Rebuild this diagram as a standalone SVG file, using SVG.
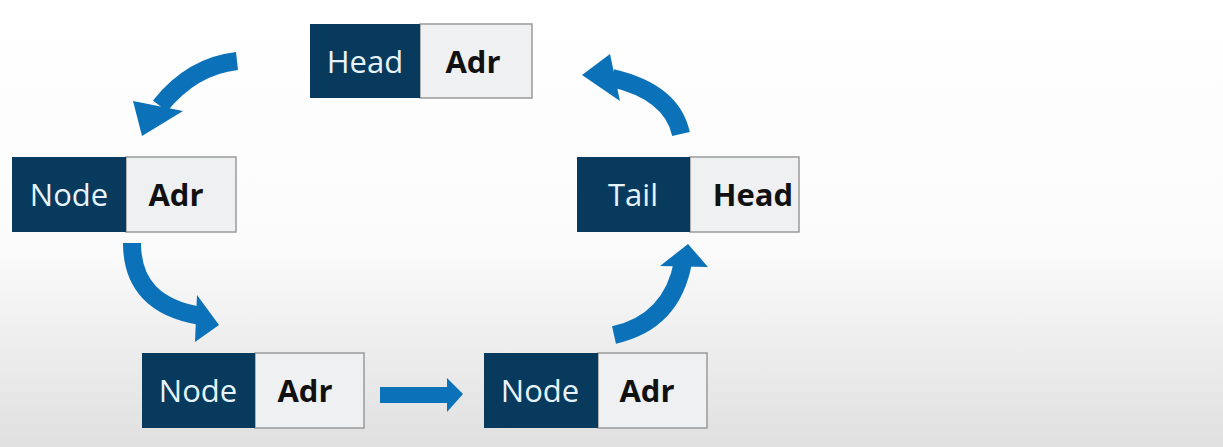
<svg xmlns="http://www.w3.org/2000/svg" width="1223" height="447" viewBox="0 0 1223 447">
<defs>
<linearGradient id="bg" x1="0" y1="0" x2="0" y2="1">
<stop offset="0" stop-color="#ffffff"/>
<stop offset="0.55" stop-color="#fbfbfb"/>
<stop offset="1" stop-color="#e0e0e0"/>
</linearGradient>
<style>
.dk{fill:#073a5c;}
.lt{fill:#eef0f2;stroke:#9a9a9a;stroke-width:1.5;}
.tw{font-family:"Open Sans","Noto Sans",sans-serif;font-size:31px;fill:#e6f3fb;text-anchor:middle;}
.tb{font-family:"Open Sans","Noto Sans",sans-serif;font-size:31px;font-weight:bold;fill:#111;text-anchor:middle;}
.sh{fill:none;stroke:#0b72b9;stroke-width:18;}
.hd{fill:#0b72b9;}
</style>
</defs>
<rect width="1223" height="447" fill="url(#bg)"/>
<g id="connectors">
<path class="sh" d="M237,61 Q192,66 160,106"/>
<polygon class="hd" points="133,101 183,111 142,136"/>
<path class="sh" d="M132,243 Q132,305 201,316"/>
<polygon class="hd" points="197,295 219,325 195,342"/>
<rect class="hd" x="380" y="387" width="69" height="16"/>
<polygon class="hd" points="447,378 463,394 447,412"/>
<path class="sh" d="M614,335 Q672,322 683,262"/>
<polygon class="hd" points="660,266 688,244 708,267"/>
<path class="sh" d="M681,134 Q672,92 612,78"/>
<polygon class="hd" points="582,75 610,54 620,101"/>
</g>
<g id="head">
<rect class="lt" x="420" y="24" width="112" height="74"/>
<rect class="dk" x="310" y="24" width="110" height="74"/>
<text class="tw" x="365" y="73">Head</text>
<text class="tb" x="473" y="73">Adr</text>
</g>
<g id="node1">
<rect class="lt" x="126" y="157" width="110" height="75"/>
<rect class="dk" x="12" y="157" width="114" height="75"/>
<text class="tw" x="69" y="206">Node</text>
<text class="tb" x="176" y="206">Adr</text>
</g>
<g id="node2">
<rect class="lt" x="255" y="353" width="109" height="75"/>
<rect class="dk" x="142" y="353" width="113" height="75"/>
<text class="tw" x="198" y="402">Node</text>
<text class="tb" x="305" y="402">Adr</text>
</g>
<g id="node3">
<rect class="lt" x="598" y="353" width="109" height="75"/>
<rect class="dk" x="484" y="353" width="114" height="75"/>
<text class="tw" x="540" y="402">Node</text>
<text class="tb" x="647" y="402">Adr</text>
</g>
<g id="tail">
<rect class="lt" x="690" y="157" width="109" height="75"/>
<rect class="dk" x="577" y="157" width="113" height="75"/>
<text class="tw" x="633" y="206">Tail</text>
<text class="tb" x="753" y="206">Head</text>
</g>
</svg>
